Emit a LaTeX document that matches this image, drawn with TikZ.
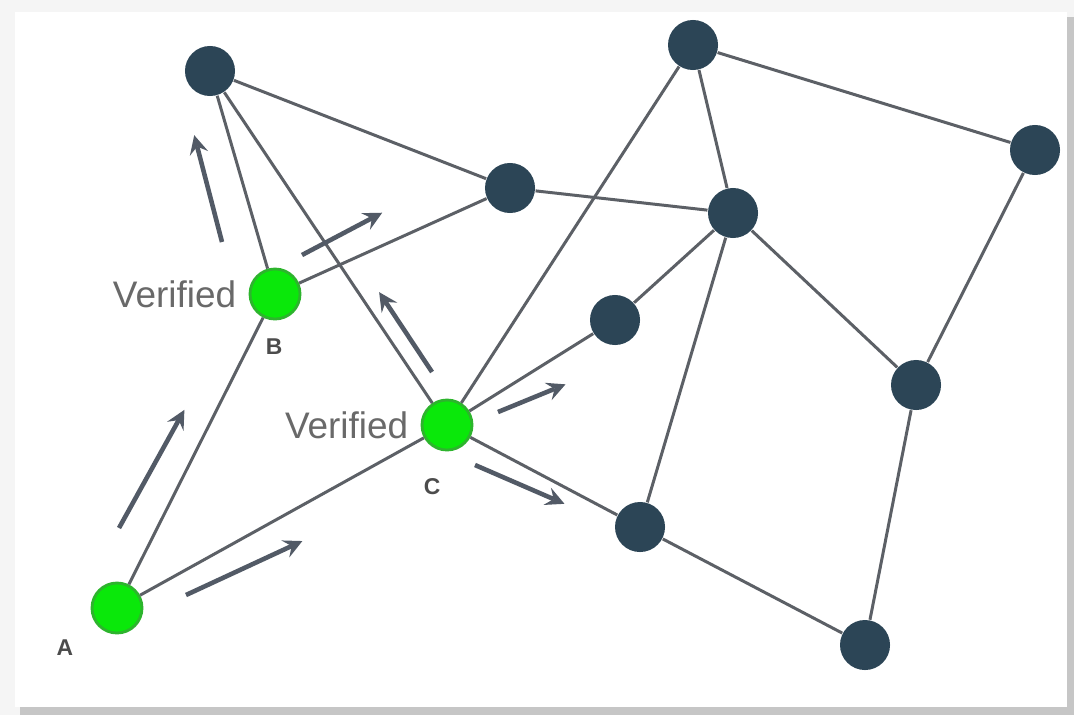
\documentclass[tikz,border=0pt]{standalone}
\usepackage{fontspec}
\setmainfont{Liberation Sans}
\usepackage{xcolor}
\usetikzlibrary{positioning}
\definecolor{peerdark}{RGB}{44,69,86}
\definecolor{peergreen}{RGB}{10,232,10}
\definecolor{peerrim}{RGB}{45,180,45}
\definecolor{linkgray}{RGB}{92,96,102}
\definecolor{flowgray}{RGB}{82,90,102}
\definecolor{labelgray}{RGB}{105,105,105}

\begin{document}
\begin{tikzpicture}[x=0.01cm, y=-0.01cm,
  peer/.style={circle, fill=peerdark, minimum size=0.5cm, inner sep=0pt},
  okpeer/.style={circle, fill=peergreen, draw=peerrim, line width=0.8pt, minimum size=0.5cm, inner sep=0pt},
  link/.style={draw=linkgray, line width=0.85pt},
  flow/.style={->, >=stealth, draw=flowgray, line width=1.3pt, shorten >=-2pt},
  verified/.style={font=\fontsize{10.5}{12}\selectfont, text=labelgray},
  tag/.style={font=\fontsize{6.5}{7.5}\selectfont\bfseries, text=black!70}
]
% frame
\fill[gray!8] (0,0) rectangle (1074,715);
\fill[gray!45] (20,17) rectangle (1074,715);
\fill[white] (15,12) rectangle (1067,707);

% peers
\node[peer] (p1) at (210,71) {};
\node[peer] (p2) at (693,45) {};
\node[peer] (p3) at (1035,150) {};
\node[peer] (p4) at (510,188) {};
\node[peer] (p5) at (733,213) {};
\node[peer] (p6) at (615,320) {};
\node[peer] (p7) at (916,385) {};
\node[peer] (p8) at (640,527) {};
\node[peer] (p9) at (865,645) {};
\node[okpeer] (b) at (275,294) {};
\node[okpeer] (c) at (447,425) {};
\node[okpeer] (a) at (117,608) {};

% links
\draw[link] (p1) -- (p4);
\draw[link] (p1) -- (b);
\draw[link] (p1) -- (c);
\draw[link] (p2) -- (p3);
\draw[link] (p2) -- (p5);
\draw[link] (p2) -- (c);
\draw[link] (p3) -- (p7);
\draw[link] (p4) -- (b);
\draw[link] (p4) -- (p5);
\draw[link] (p5) -- (p6);
\draw[link] (p5) -- (p7);
\draw[link] (p5) -- (p8);
\draw[link] (p7) -- (p9);
\draw[link] (p8) -- (p9);
\draw[link] (a) -- (b);
\draw[link] (a) -- (c);
\draw[link] (c) -- (p6);
\draw[link] (c) -- (p8);

% labels
\node[verified, left=0pt of b] (vb) {Verified};
\node[verified, left=0pt of c] (vc) {Verified};
\node[tag] (lb) at (274,347) {B};
\node[tag] (lc) at (432,487) {C};
\node[tag] (la) at (65,648) {A};

% flow arrows
\coordinate (f1s) at (222,242); \coordinate (f1e) at (196,142);
\coordinate (f2s) at (302,255); \coordinate (f2e) at (376,216);
\coordinate (f3s) at (432,372); \coordinate (f3e) at (383,298);
\coordinate (f4s) at (119,528); \coordinate (f4e) at (181,416);
\coordinate (f5s) at (186,595); \coordinate (f5e) at (296,544);
\coordinate (f6s) at (498,412); \coordinate (f6e) at (559,387);
\coordinate (f7s) at (475,465); \coordinate (f7e) at (558,501);
\draw[flow] (f1s) -- (f1e);
\draw[flow] (f2s) -- (f2e);
\draw[flow] (f3s) -- (f3e);
\draw[flow] (f4s) -- (f4e);
\draw[flow] (f5s) -- (f5e);
\draw[flow] (f6s) -- (f6e);
\draw[flow] (f7s) -- (f7e);
\end{tikzpicture}
\end{document}
